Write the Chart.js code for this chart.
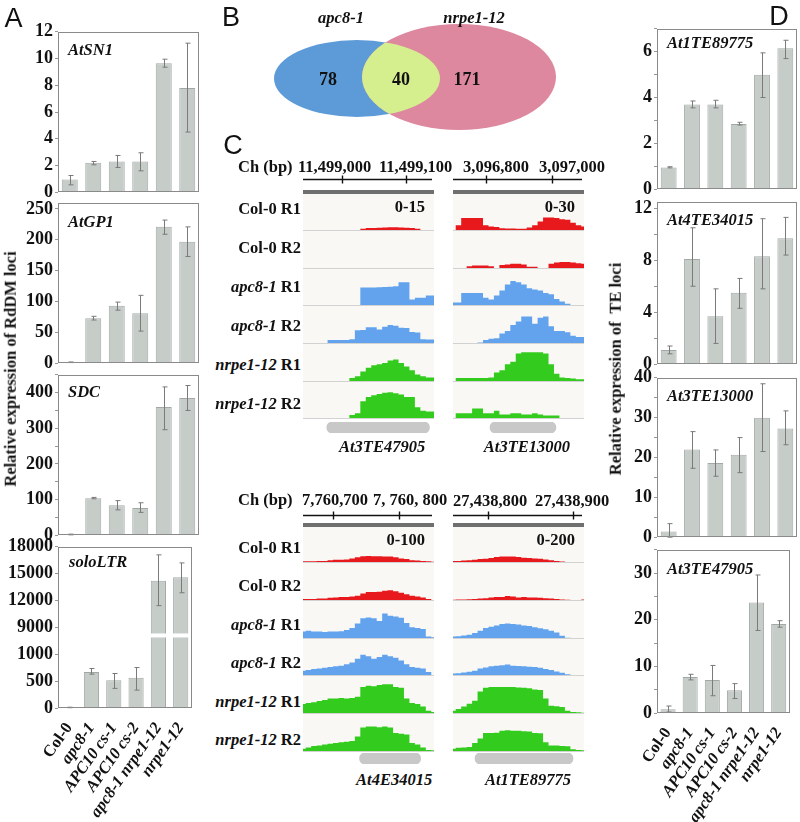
<!DOCTYPE html>
<html>
<head>
<meta charset="utf-8">
<script src="https://cdn.jsdelivr.net/npm/chart.js@4.4.0/dist/chart.umd.min.js"></script>
<style>
body { margin: 0; background: #fff; }
#fig { position: relative; width: 800px; height: 822px; overflow: hidden; background: #fff;
       font-family: "Liberation Serif", "Times New Roman", serif; font-weight: bold; color: #111; }
#fig canvas { position: absolute; }
.lbl { position: absolute; white-space: nowrap; font-size: 16.5px; line-height: 1; }
.panel { font-family: "Liberation Sans", Arial, sans-serif; font-weight: normal; font-size: 27px; color: #111; }
.deco { position: absolute; }
</style>
</head>
<body>
<div id="fig"></div>
<script>
// ---- data ----
const strains = ['Col-0', 'apc8-1', 'APC10 cs-1', 'APC10 cs-2', 'apc8-1 nrpe1-12', 'nrpe1-12'];

// A: RdDM loci
const atSN1 = [0.95, 2.2, 2.3, 2.3, 9.65, 7.8];
const atSN1Lo = [0.55, 2.05, 1.85, 1.6, 9.35, 4.5];
const atSN1Hi = [1.25, 2.3, 2.75, 2.95, 9.95, 11.15];
const atGP1 = [1.5, 73, 93, 81, 221, 197];
const atGP1Lo = [1, 70, 86, 52, 209, 173];
const atGP1Hi = [2, 76, 99, 110, 232, 221];
const sdc = [2, 104, 84, 76, 360, 385];
const sdcLo = [1, 102, 71, 64, 296, 350];
const sdcHi = [3, 106, 97, 91, 416, 420];
const soloLTR = [10, 670, 518, 561, 14220, 14590];
const soloLTRLo = [5, 630, 365, 333, 11430, 12870];
const soloLTRHi = [15, 735, 642, 753, 17100, 16200];
const ltrTicks = ['0', '500', '1000', '9000', '12000', '15000', '18000'];

// D: TE loci
const te89775 = [0.95, 3.7, 3.7, 2.85, 5.0, 6.15];
const te89775Lo = [0.93, 3.55, 3.55, 2.8, 4.0, 5.7];
const te89775Hi = [0.98, 3.85, 3.88, 2.92, 5.95, 6.5];
const te34015 = [1.1, 8.1, 3.7, 5.5, 8.3, 9.7];
const te34015Lo = [0.8, 6.0, 1.6, 4.3, 5.8, 8.4];
const te34015Hi = [1.4, 10.5, 5.8, 6.6, 11.2, 11.3];
const te13000 = [1.4, 22, 18.6, 20.7, 30, 27.3];
const te13000Lo = [0, 17.3, 15.3, 16.2, 21.5, 23.2];
const te13000Hi = [3.4, 26.5, 21.9, 25, 38.5, 31.7];
const te47905 = [0.8, 7.7, 7.1, 4.9, 23.7, 19.1];
const te47905Lo = [0.2, 7.1, 3.7, 3.1, 17.7, 18.4];
const te47905Hi = [1.5, 8.3, 10.2, 6.3, 29.6, 19.8];

// B: Venn
const vennSets = ['apc8-1', 'nrpe1-12'];
const vennCounts = [78, 40, 171]; // apc8-1 only, shared, nrpe1-12 only

// C: browser tracks (reads), 25 bins across each window
const trackRows = ['Col-0 R1', 'Col-0 R2', 'apc8-1 R1', 'apc8-1 R2', 'nrpe1-12 R1', 'nrpe1-12 R2'];
const trackBins = [0,1,2,3,4,5,6,7,8,9,10,11,12,13,14,15,16,17,18,19,20,21,22,23,24];
const cov47905 = [
  [0,0,0,0,0,0,0,0,0,0,0,0.5,0.8,0.8,0.9,1,1.1,1.1,1,0.9,0.8,0.5,0,0,0],
  [0,0,0,0,0,0,0,0,0,0,0,0,0,0,0,0,0,0,0,0,0,0,0,0,0],
  [0,0,0,0,0,0,0,0,0,0,0,7.3,7.3,7.3,7.4,7.5,7.6,7.8,9.5,9.5,2.3,3,3,4,4],
  [0,0,0,0,0,1.3,1.3,1.3,1.3,1.6,5.3,5.4,6.6,6.6,5.6,6.8,7.5,7.2,6.4,6.3,4.6,4.4,1.6,1.5,1.5],
  [0,0,0,0,0,0,0,0,0,1.3,2,4,5.5,6.6,7,7.5,8.5,9,7.5,6,4.5,2.7,2,1.5,1.5],
  [0,0,0,0,0,0,0,0,0,1.3,2,7,8.7,9.5,10,10.5,10.7,10.3,9.8,8.7,8.7,4.5,3,2.7,2.7]
];
const cov13000 = [
  [0,4,10,10,10,10,4,3,2.5,1.5,1.2,1.2,1,1,2,4,7,10.5,10.5,10,9,8.5,6,4,3],
  [0,0,0,1.5,2,2,2,1.5,0,2.5,3,3.5,3.5,3,1,1,0,0,3.5,4.5,5,5,4.5,4,3.5],
  [2,2,10,10,10,10,6,4.5,8,12,17,20,19,17,14,13,12,10,9,5,3,1,0,0,0],
  [0,0,0,0,0,0.5,2.5,3.5,4,8,10,15,18,22,22,16,21,22,14,10,10,9,6,5,5],
  [0,2.5,2.5,2.5,2.5,2.5,2.5,3,7,9,14,16,23,24,24,24,24,23,14,6,3,2.5,2,1.5,1.5],
  [0,4,4,4,8,8,4,4,6,3,3,4,4,3,3,4,3,2,2,2,0,0,0,0,0]
];
const cov34015 = [
  [2,2,2,3,3,5,6,6,7,10,13,16,17,16,16,15,15,13,10,8,5,4,3,2,1],
  [3,3,3,4,4,6,7,8,8,10,12,18,22,22,23,26,27,24,20,16,12,10,7,3,0],
  [18,20,18,18,17,18,18,19,22,28,40,55,57,55,47,68,62,60,56,42,30,28,25,4,2],
  [12,14,17,18,20,22,24,26,30,35,45,56,52,45,50,56,52,48,40,30,22,20,18,8,0],
  [25,28,30,33,36,40,40,42,40,42,45,72,76,74,78,80,80,72,70,40,28,25,18,6,3],
  [6,10,14,15,18,20,22,24,26,28,40,65,68,68,66,68,65,50,48,46,22,18,10,3,2]
];
const cov89775 = [
  [5,6,8,10,13,17,18,22,28,30,30,30,28,24,22,20,18,14,10,5,3,0,0,0,0],
  [2,3,3,4,5,8,10,14,16,16,22,20,14,16,14,14,12,10,8,5,3,2,0,0,3],
  [8,10,14,18,28,40,55,62,70,78,80,78,75,70,66,60,54,48,40,30,12,2,0,0,0],
  [8,10,14,18,24,36,42,48,52,54,58,52,50,48,46,44,40,34,28,20,12,4,0,0,0],
  [12,22,36,52,68,120,140,145,145,145,145,145,142,140,138,130,128,80,40,38,34,12,6,4,2],
  [12,18,20,22,45,70,100,100,102,112,115,112,112,110,108,100,98,48,30,30,28,26,10,6,4]
];

// ---- helpers ----
const SERIF = '"Liberation Serif", "Times New Roman", serif';
const BAR_FILL = '#c6ccc8';
const BAR_EDGE = '#a2a9a5';
const fig = document.getElementById('fig');

Chart.defaults.animation = false;
Chart.defaults.responsive = false;
Chart.defaults.maintainAspectRatio = false;
Chart.defaults.events = [];
Chart.defaults.plugins.legend.display = false;
Chart.defaults.plugins.tooltip.enabled = false;
Chart.defaults.font.family = SERIF;

function addCanvas(x, y, w, h) {
    const c = document.createElement('canvas');
    c.width = w; c.height = h;
    c.style.left = x + 'px'; c.style.top = y + 'px';
    c.style.width = w + 'px'; c.style.height = h + 'px';
    fig.appendChild(c);
    return c;
}

function label(html, x, y, align, cls) {
    const d = document.createElement('div');
    d.className = 'lbl ' + (cls || '');
    d.innerHTML = html;
    d.style.left = x + 'px';
    d.style.top = y + 'px';
    const tx = align === 'center' ? '-50%' : align === 'right' ? '-100%' : '0';
    d.style.transform = `translate(${tx}, -50%)`;
    fig.appendChild(d);
    return d;
}

function vlabel(html, x, y) {
    const d = label(html, x, y, 'left');
    d.style.transform = 'translate(-50%, -50%) rotate(-90deg)';
    return d;
}

function deco(x, y, w, h, color) {
    const d = document.createElement('div');
    d.className = 'deco';
    d.style.left = x + 'px'; d.style.top = y + 'px';
    d.style.width = w + 'px'; d.style.height = h + 'px';
    d.style.background = color;
    fig.appendChild(d);
}

// ---- plugins ----
const frame = {
    id: 'frame',
    afterDatasetsDraw(chart) {
        const { ctx, chartArea: a } = chart;
        ctx.save();
        ctx.strokeStyle = '#8a8a8a';
        ctx.lineWidth = 1;
        ctx.strokeRect(Math.round(a.left) + 0.5, Math.round(a.top) + 0.5,
                       Math.round(a.width) - 1, Math.round(a.height) - 1);
        ctx.restore();
    }
};

const errorBars = {
    id: 'errorBars',
    afterDatasetsDraw(chart, args, o) {
        if (!o.lo) return;
        const { ctx, scales: { y } } = chart;
        const meta = chart.getDatasetMeta(0);
        ctx.save();
        ctx.strokeStyle = '#7a7a7a';
        ctx.lineWidth = 1;
        meta.data.forEach((bar, i) => {
            const x = Math.round(bar.x) + 0.5;
            const y1 = y.getPixelForValue(o.lo[i]);
            const y2 = y.getPixelForValue(o.hi[i]);
            ctx.beginPath();
            ctx.moveTo(x, y1); ctx.lineTo(x, y2);
            ctx.moveTo(x - 2, y1); ctx.lineTo(x + 3, y1);
            ctx.moveTo(x - 2, y2); ctx.lineTo(x + 3, y2);
            ctx.stroke();
        });
        ctx.restore();
    }
};

const axisBreak = {
    id: 'axisBreak',
    afterDatasetsDraw(chart, args, o) {
        if (o.at == null) return;
        const { ctx, scales: { y }, chartArea: a } = chart;
        const py = y.getPixelForValue(o.at);
        ctx.save();
        ctx.fillStyle = '#fff';
        ctx.fillRect(a.left + 1, py - 2, a.width - 2, 4);
        ctx.restore();
    }
};

// genomic ruler: a line across the window with a tick at each labelled position
const ruler = {
    id: 'ruler',
    afterDraw(chart, args, o) {
        if (!o.ticks) return;
        const { ctx, scales: { x, y } } = chart;
        const py = Math.round(y.getPixelForValue(0)) + 0.5;
        ctx.save();
        ctx.strokeStyle = '#111';
        ctx.lineWidth = 1.4;
        ctx.beginPath();
        ctx.moveTo(x.getPixelForValue(x.min), py);
        ctx.lineTo(x.getPixelForValue(x.max), py);
        o.ticks.forEach(t => {
            const px = Math.round(x.getPixelForValue(t)) + 0.5;
            ctx.moveTo(px, py - 4);
            ctx.lineTo(px, py + 4);
        });
        ctx.stroke();
        ctx.restore();
    }
};

function barPanel(cfg) {
    const padT = 12;
    const padB = cfg.xh ? 0 : 12;
    const h = padT + cfg.plotH + padB + (cfg.xh || 0);
    const c = addCanvas(cfg.left, cfg.plotTop - padT, cfg.width, h);
    const tf = cfg.transform || (v => v);
    return new Chart(c, {
        type: 'bar',
        data: {
            labels: strains,
            datasets: [{
                data: cfg.values.map(tf),
                backgroundColor: BAR_FILL,
                borderColor: BAR_EDGE,
                borderWidth: 1,
                barPercentage: 0.68,
                categoryPercentage: 1
            }]
        },
        options: {
            layout: { padding: { top: padT, bottom: padB, right: 1, left: 0 } },
            scales: {
                x: {
                    display: !!cfg.xh,
                    grid: { display: false },
                    border: { display: false },
                    afterFit: s => { s.height = cfg.xh || 0; },
                    ticks: {
                        autoSkip: false, minRotation: 55, maxRotation: 55, padding: 3, color: '#111',
                        font: ctx => ({ family: SERIF, size: 16.5, weight: 'bold', style: ctx.index === 0 ? 'normal' : 'italic' })
                    }
                },
                y: {
                    min: 0, max: cfg.max,
                    afterFit: s => { s.width = cfg.yw; },
                    border: { display: false },
                    grid: { drawOnChartArea: false, drawTicks: true, tickLength: 3, color: '#999' },
                    ticks: {
                        stepSize: cfg.step, includeBounds: false, autoSkip: false, padding: 2, color: '#111',
                        font: { family: SERIF, size: 18, weight: 'bold' },
                        callback: cfg.tickLabel || (v => v)
                    }
                }
            },
            plugins: {
                errorBars: { lo: cfg.lo.map(tf), hi: cfg.hi.map(tf) },
                axisBreak: { at: cfg.breakAt }
            }
        },
        plugins: [axisBreak, errorBars, frame]
    });
}

// ---- panel A ----
const ltrPos = v => (v <= 1000 ? v / 500 : 3 + (v - 9000) / 3000);
const A = { left: 0, width: 200, yw: 58 };
barPanel({ ...A, plotTop: 31, plotH: 162, max: 12, step: 2, values: atSN1, lo: atSN1Lo, hi: atSN1Hi });
barPanel({ ...A, plotTop: 202, plotH: 162, max: 260, step: 50, values: atGP1, lo: atGP1Lo, hi: atGP1Hi });
barPanel({ ...A, plotTop: 374, plotH: 162, max: 450, step: 50, values: sdc, lo: sdcLo, hi: sdcHi,
           tickLabel: v => (v % 100 === 0 ? v : '') });
barPanel({ ...A, plotTop: 546, plotH: 162, max: 6, step: 1, values: soloLTR, lo: soloLTRLo, hi: soloLTRHi,
           transform: ltrPos, tickLabel: v => ltrTicks[v], breakAt: 2.7, xh: 114 });

label('A', 13.5, 18, 'center', 'panel');
label('<i>AtSN1</i>', 68, 50, 'left');
label('<i>AtGP1</i>', 68, 222, 'left');
label('<i>SDC</i>', 68, 392, 'left');
label('<i>soloLTR</i>', 69, 562, 'left');
vlabel('Relative expression of RdDM loci', 11, 369);

// ---- panel D ----
const D = { left: 600, width: 198, yw: 57 };
barPanel({ ...D, plotTop: 28, plotH: 162, max: 7, step: 1, values: te89775, lo: te89775Lo, hi: te89775Hi,
           tickLabel: v => (v % 2 === 0 ? v : '') });
barPanel({ ...D, plotTop: 201, plotH: 164, max: 12.5, step: 2, values: te34015, lo: te34015Lo, hi: te34015Hi,
           tickLabel: v => (v % 4 === 0 ? v : '') });
barPanel({ ...D, plotTop: 377, plotH: 161, max: 40, step: 5, values: te13000, lo: te13000Lo, hi: te13000Hi,
           tickLabel: v => (v % 10 === 0 ? v : '') });
barPanel({ ...D, plotTop: 549, plotH: 164, max: 35, step: 5, values: te47905, lo: te47905Lo, hi: te47905Hi,
           tickLabel: v => (v % 10 === 0 ? v : ''), xh: 109 });

label('D', 779, 16, 'center', 'panel');
label('<i>At1TE89775</i>', 667, 43, 'left');
label('<i>At4TE34015</i>', 667, 220, 'left');
label('<i>At3TE13000</i>', 667, 396, 'left');
label('<i>At3TE47905</i>', 667, 569, 'left');
vlabel('Relative expression of&nbsp; TE loci', 616, 369);

// ---- panel B: Venn ----
const vennLayout = {
    left: 195, top: 0, w: 445, h: 135,
    ellipses: [
        { cx: 162, cy: 78.5, rx: 83, ry: 38.5, color: '#5d9bd8' },
        { cx: 264, cy: 77, rx: 97, ry: 53, color: '#dd889f' }
    ],
    overlap: '#d6ef8e',
    countPos: [[133, 80], [206, 80], [272, 80]]
};
const vennPlugin = {
    id: 'venn',
    beforeDatasetsDraw(chart) {
        const { ctx, scales: { x, y } } = chart;
        const px = v => x.getPixelForValue(v), py = v => y.getPixelForValue(v);
        const sx = Math.abs(px(1) - px(0)), sy = Math.abs(py(1) - py(0));
        const path = e => { ctx.beginPath(); ctx.ellipse(px(e.cx), py(e.cy), e.rx * sx, e.ry * sy, 0, 0, Math.PI * 2); };
        const [a, b] = vennLayout.ellipses;
        ctx.save();
        path(a); ctx.fillStyle = a.color; ctx.fill();
        path(b); ctx.fillStyle = b.color; ctx.fill();
        path(a); ctx.clip();
        path(b); ctx.fillStyle = vennLayout.overlap; ctx.fill();
        ctx.restore();
        ctx.save();
        ctx.fillStyle = '#111';
        ctx.font = `bold 18px ${SERIF}`;
        ctx.textAlign = 'center';
        ctx.textBaseline = 'middle';
        vennCounts.forEach((n, i) => {
            const [cx, cy] = vennLayout.countPos[i];
            ctx.fillText(String(n), px(cx), py(cy));
        });
        ctx.restore();
    }
};
new Chart(addCanvas(vennLayout.left, vennLayout.top, vennLayout.w, vennLayout.h), {
    type: 'scatter',
    data: { datasets: [{ data: [] }] },
    options: {
        layout: { padding: 0 },
        scales: {
            x: { type: 'linear', display: false, min: 0, max: vennLayout.w },
            y: { type: 'linear', display: false, min: 0, max: vennLayout.h, reverse: true }
        }
    },
    plugins: [vennPlugin]
});
label('B', 231, 17, 'center', 'panel');
label('<i>' + vennSets[0] + '</i>', 341, 18, 'center');
label('<i>' + vennSets[1] + '</i>', 474, 18, 'center');

// ---- panel C: browser tracks ----
const rowColors = ['#e8191c', '#e8191c', '#63a3ee', '#63a3ee', '#33cc1e', '#33cc1e'];
const blocks = [
    { cov: cov47905, range: '0-15', max: 15, gene: 'At3TE47905', left: 303, rulerY: 179, barTop: 190, base0: 230,
      start: 11498940, end: 11499144, ticks: [11499000, 11499100], geneSpan: [11498977, 11499137], geneY: 422, geneLabelY: 447,
      coords: [['11,499,000', 298], ['11,499,100', 379]], headY: 167, rangeY: 207, rows: { y0: 209, step: 38.9 } },
    { cov: cov13000, range: '0-30', max: 30, gene: 'At3TE13000', left: 453, rulerY: 179, barTop: 190, base0: 230,
      start: 3096701, end: 3097098, ticks: [3096800, 3097000], geneSpan: [3096813, 3097013], geneY: 422, geneLabelY: 447,
      coords: [['3,096,800', 463], ['3,097,000', 539]], headY: 167, rangeY: 207 },
    { cov: cov34015, range: '0-100', max: 100, gene: 'At4E34015', left: 303, rulerY: 515, barTop: 522.5, base0: 562.3,
      start: 7760655, end: 7760852, ticks: [7760700, 7760800], geneSpan: [7760740, 7760832], geneY: 753, geneLabelY: 780,
      coords: [['7,760,700', 302], ['7, 760, 800', 373]], headY: 500, rangeY: 540, rows: { y0: 547.7, step: 38.5 } },
    { cov: cov89775, range: '0-200', max: 200, gene: 'At1TE89775', left: 453, rulerY: 515, barTop: 522.5, base0: 562.3,
      start: 27438758, end: 27438913, ticks: [27438800, 27438900], geneSpan: [27438784, 27438900], geneY: 753, geneLabelY: 780,
      coords: [['27,438,800', 453], ['27,438,900', 535]], headY: 501, rangeY: 540 }
];
const TW = 131, TSTEP = 37.67;

blocks.forEach(b => {
    const baseLast = Math.round(b.base0 + 5 * TSTEP);
    const barBottom = Math.round(b.barTop + 4);
    deco(b.left, barBottom, TW, baseLast - barBottom + 1, '#f9f8f5');

    b.cov.forEach((vals, i) => {
        const base = Math.round(b.base0 + i * TSTEP);
        deco(b.left, base, TW, 1, '#d2d2d2');
        const c = addCanvas(b.left, base - 36, TW, 36);
        new Chart(c, {
            type: 'line',
            data: {
                labels: trackBins,
                datasets: [{
                    data: vals, fill: 'origin', stepped: 'middle',
                    backgroundColor: rowColors[i], borderColor: rowColors[i], borderWidth: 0, pointRadius: 0
                }]
            },
            options: {
                layout: { padding: 0 },
                scales: { x: { display: false, offset: false }, y: { display: false, min: 0, max: b.max } }
            }
        });
    });

    // gray bar under the ruler
    deco(b.left, b.barTop, TW, 4, '#6f6f6f');

    // ruler (genomic coordinate axis)
    new Chart(addCanvas(b.left, b.rulerY - 6, TW - 2, 12), {
        type: 'scatter',
        data: { datasets: [{ data: [] }] },
        options: {
            layout: { padding: 0 },
            scales: { x: { type: 'linear', display: false, min: b.start, max: b.end - (b.end - b.start) * 2 / TW },
                      y: { type: 'linear', display: false, min: -1, max: 1 } },
            plugins: { ruler: { ticks: b.ticks } }
        },
        plugins: [ruler]
    });

    // gene model
    new Chart(addCanvas(b.left, b.geneY, TW, 11), {
        type: 'bar',
        data: { labels: [b.gene], datasets: [{ data: [b.geneSpan], backgroundColor: '#c8c8c8', borderRadius: 6,
                                               borderSkipped: false, barPercentage: 1, categoryPercentage: 1 }] },
        options: {
            indexAxis: 'y',
            layout: { padding: 0 },
            scales: { x: { type: 'linear', display: false, min: b.start, max: b.end }, y: { display: false } }
        }
    });

    const sx = v => b.left + (v - b.start) / (b.end - b.start) * TW;
    label('<i>' + b.gene + '</i>', (sx(b.geneSpan[0]) + sx(b.geneSpan[1])) / 2 + 4, b.geneLabelY, 'center');
    label(b.range, b.left + TW - 9, b.rangeY, 'right');
    b.coords.forEach(([t, x]) => label(t, x, b.headY, 'left'));
    if (b.rows) {
        label('Ch (bp)', b.left - 65, b.headY, 'left');
        trackRows.forEach((r, i) => {
            const html = r.replace(/^(apc8-1|nrpe1-12)/, '<i>$1</i>');
            label(html, b.left - 2, b.rows.y0 + i * b.rows.step, 'right');
        });
    }
});
label('C', 233, 145, 'center', 'panel');
</script>
</body>
</html>
